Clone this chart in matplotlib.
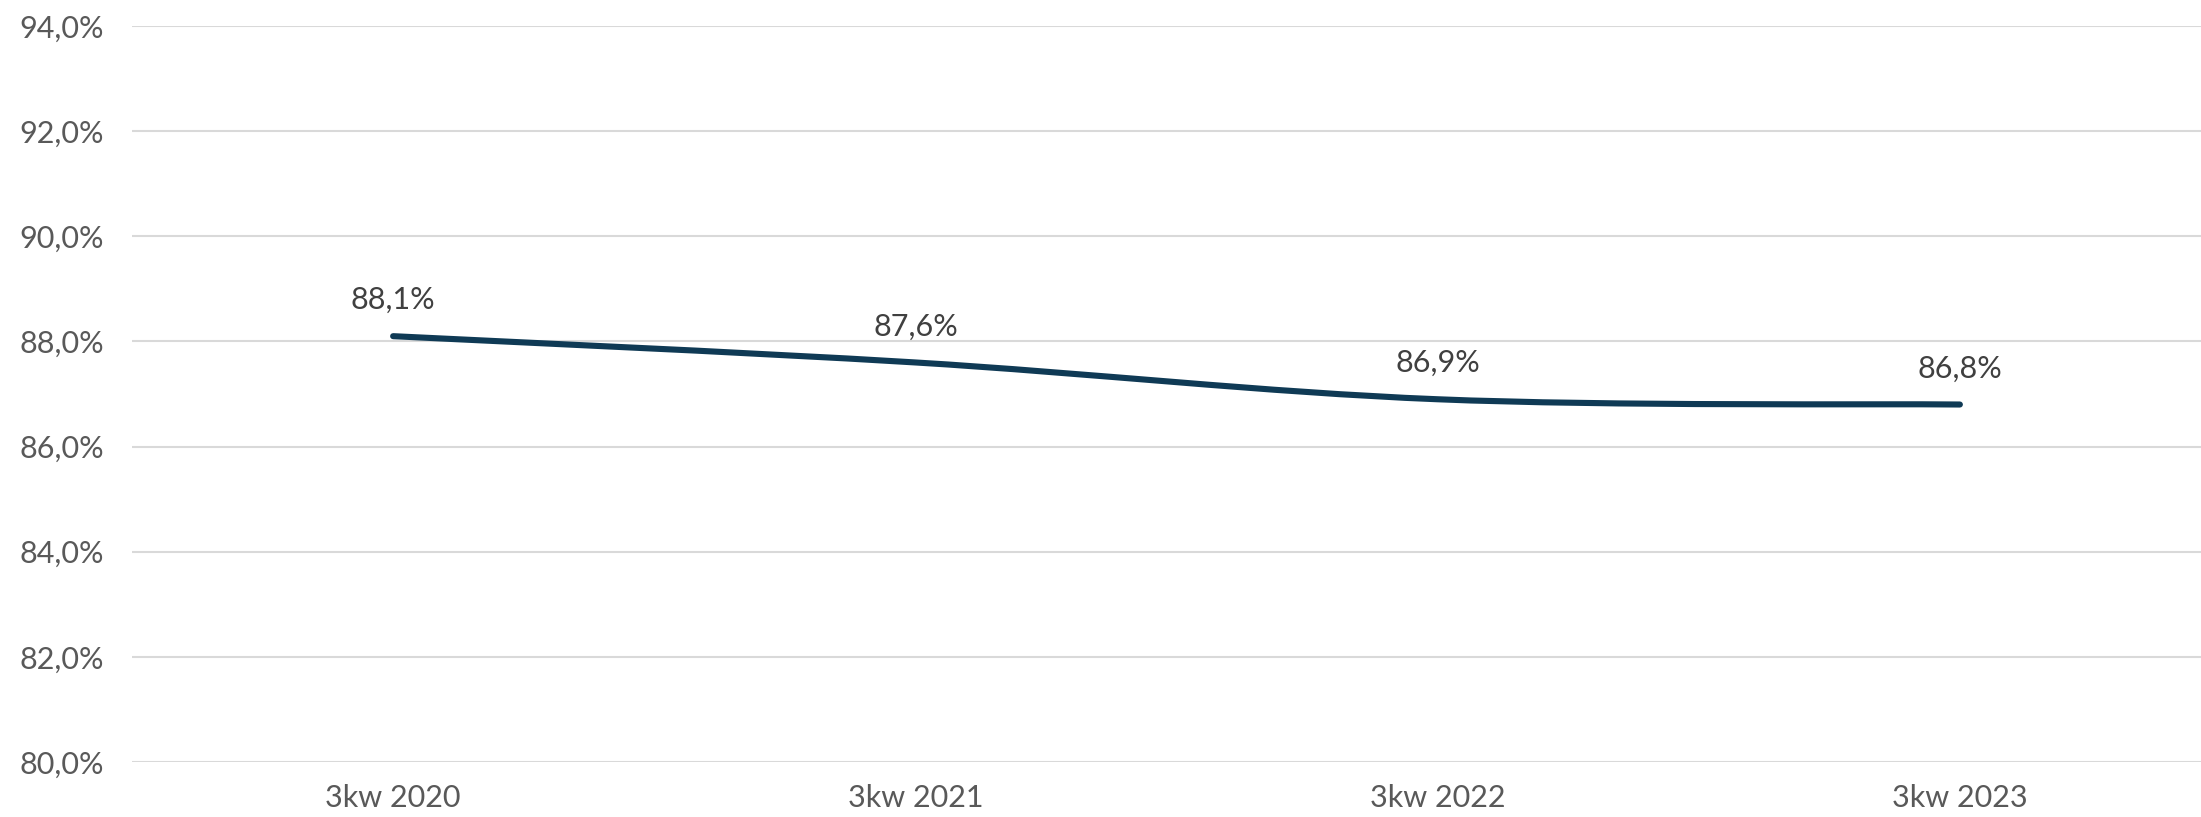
import matplotlib
matplotlib.use("Agg")
import matplotlib.pyplot as plt
from matplotlib.path import Path
from matplotlib.patches import PathPatch

categories = ["3kw 2020", "3kw 2021", "3kw 2022", "3kw 2023"]
values = [88.1, 87.6, 86.9, 86.8]
y_ticks = [80, 82, 84, 86, 88, 90, 92, 94]

LINE_COLOR = "#0F3A55"
GRID_COLOR = "#D9D9D9"
TICK_COLOR = "#595959"
LABEL_COLOR = "#404040"

plt.rcParams["font.family"] = ["Lato", "DejaVu Sans"]

W, H = 2201, 817
fig = plt.figure(figsize=(W / 100, H / 100), dpi=100)
left, right, top, bottom = 132, 2201, 26, 762
ax = fig.add_axes([left / W, 1 - bottom / H, (right - left) / W, (bottom - top) / H])

x = list(range(len(values)))
ax.set_xlim(-0.5, len(values) - 0.5 - 20 / 522)
ax.set_ylim(80, 94)

# smoothed line drawn as cubic Bezier segments (Catmull-Rom style control points)
tension = 1 / 6
pts = list(zip(x, values))
verts = [pts[0]]
codes = [Path.MOVETO]
n = len(pts)
for i in range(n - 1):
    p0 = pts[i - 1] if i > 0 else pts[i]
    p1 = pts[i]
    p2 = pts[i + 1]
    p3 = pts[i + 2] if i + 2 < n else pts[i + 1]
    c1 = (p1[0] + (p2[0] - p0[0]) * tension, p1[1] + (p2[1] - p0[1]) * tension)
    c2 = (p2[0] - (p3[0] - p1[0]) * tension, p2[1] - (p3[1] - p1[1]) * tension)
    verts += [c1, c2, p2]
    codes += [Path.CURVE4, Path.CURVE4, Path.CURVE4]
ax.add_patch(PathPatch(Path(verts, codes), facecolor="none", edgecolor=LINE_COLOR,
                       lw=4.4, capstyle="round", joinstyle="round", zorder=3))

for xi, v in zip(x, values):
    ax.annotate(f"{v:.1f}%".replace(".", ","), (xi, v), xytext=(0, 26),
                textcoords="offset points", ha="center", va="center",
                fontsize=22, color=LABEL_COLOR, zorder=4)

ax.set_yticks(y_ticks)
ax.set_yticklabels([f"{t:.1f}%".replace(".", ",") for t in y_ticks])
ax.set_xticks(x)
ax.set_xticklabels(categories)
ax.grid(axis="y", color=GRID_COLOR, lw=1.5)
ax.set_axisbelow(True)
ax.tick_params(axis="both", length=0, labelsize=22, colors=TICK_COLOR)
ax.tick_params(axis="y", pad=20)
ax.tick_params(axis="x", pad=16)
for s in ax.spines.values():
    s.set_visible(False)

fig.savefig("out.png", dpi=100, facecolor="white")
